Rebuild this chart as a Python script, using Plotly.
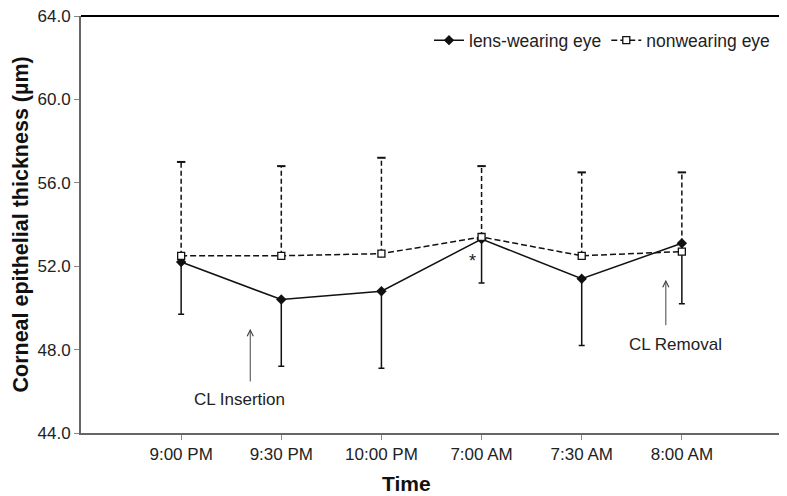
import plotly.graph_objects as go

# data
times = ["9:00 PM", "9:30 PM", "10:00 PM", "7:00 AM", "7:30 AM", "8:00 AM"]
lens_mean = [52.2, 50.4, 50.8, 53.3, 51.4, 53.1]
lens_sd = [2.5, 3.2, 3.7, 2.1, 3.2, 2.9]
non_mean = [52.5, 52.5, 52.6, 53.4, 52.5, 52.7]
non_sd = [4.5, 4.3, 4.6, 3.4, 4.0, 3.8]

x = list(range(len(times)))
font = "Liberation Sans, Arial, sans-serif"

fig = go.Figure()

# dashed upward error bars for the nonwearing eye (plotly error bars cannot be dashed)
bx, by = [], []
for i, m, s in zip(x, non_mean, non_sd):
    bx += [i, i, None]
    by += [m, m + s, None]
fig.add_trace(go.Scatter(x=bx, y=by, mode="lines", showlegend=False, hoverinfo="skip",
                         line=dict(color="#111", width=1.5, dash="5px,3px")))
fig.add_trace(go.Scatter(x=x, y=[m + s for m, s in zip(non_mean, non_sd)], mode="markers",
                         showlegend=False, hoverinfo="skip",
                         marker=dict(symbol="line-ew", size=6, line=dict(color="#111", width=2))))

# lens-wearing eye: solid line, downward error bars
fig.add_trace(go.Scatter(
    x=x, y=lens_mean, name="lens-wearing eye", mode="lines+markers",
    line=dict(color="#111", width=1.5),
    marker=dict(symbol="diamond", size=8, color="#111"),
    error_y=dict(type="data", symmetric=False, array=[0] * len(x), arrayminus=lens_sd,
                 color="#111", thickness=1.5, width=3),
))

# nonwearing eye: dashed line, open squares
fig.add_trace(go.Scatter(
    x=x, y=non_mean, name="nonwearing eye", mode="lines+markers",
    line=dict(color="#111", width=1.5, dash="6px,3px"),
    marker=dict(symbol="square", size=7, color="white", line=dict(color="#111", width=1.3)),
))

# frame: grey left/bottom axis lines, black top/right
fig.add_shape(type="line", xref="paper", yref="paper", x0=0, x1=1, y0=1, y1=1,
              line=dict(color="black", width=2))
fig.add_shape(type="line", xref="paper", yref="paper", x0=1, x1=1, y0=0, y1=1,
              line=dict(color="black", width=2))

# annotations
fig.add_annotation(x=3, y=52.25, text="*", showarrow=False, xshift=-9,
                   font=dict(size=18, color="#222"))
fig.add_annotation(x=0.69, y=49.0, ax=0.69, ay=46.4, axref="x", ayref="y", text="",
                   showarrow=True, arrowhead=5, arrowsize=1.2, arrowwidth=1, arrowcolor="#444")
fig.add_annotation(x=0.58, y=45.6, text="CL Insertion", showarrow=False,
                   font=dict(size=17, color="#222"))
fig.add_annotation(x=4.84, y=51.35, ax=4.84, ay=49.1, axref="x", ayref="y", text="",
                   showarrow=True, arrowhead=5, arrowsize=1.2, arrowwidth=1, arrowcolor="#444")
fig.add_annotation(x=4.94, y=48.25, text="CL Removal", showarrow=False,
                   font=dict(size=17, color="#222"))

# axis titles
fig.add_annotation(xref="paper", yref="paper", x=-0.087, y=0.5, textangle=-90,
                   xanchor="center", yanchor="middle",
                   text="<b>Corneal epithelial thickness (µm)</b>", showarrow=False,
                   font=dict(size=21.5, color="#111"))
fig.add_annotation(xref="paper", yref="paper", x=0.465, y=-0.12, yanchor="middle",
                   xanchor="center",
                   text="<b>Time</b>", showarrow=False, font=dict(size=21, color="#111"))

# page body keeps an 8px margin, so the figure is 8px smaller than the window
fig.update_layout(
    width=779, height=488,
    margin=dict(l=73, r=5, t=8, b=63, autoexpand=False),
    plot_bgcolor="white", paper_bgcolor="white",
    font=dict(family=font, color="#222", size=17),
    legend=dict(orientation="h", x=0.99, y=0.985, xanchor="right", yanchor="top",
                bgcolor="rgba(0,0,0,0)", font=dict(size=17.5), itemwidth=30),
)
fig.update_xaxes(
    range=[-1, 6], tickvals=x + [6], ticktext=times + [""],
    showgrid=False, zeroline=False, automargin=False,
    showline=True, linecolor="#666", linewidth=2,
    ticks="outside", ticklen=5, tickcolor="#888",
    tickfont=dict(size=17, color="#222"),
)
fig.update_yaxes(
    range=[44, 64], tickvals=[44, 48, 52, 56, 60, 64], tickformat=".1f",
    showgrid=False, zeroline=False, automargin=False, ticklabeloverflow="allow",
    showline=True, linecolor="#666", linewidth=2,
    ticks="outside", ticklen=5, tickcolor="#888",
    tickfont=dict(size=17, color="#222"),
)

fig.write_html("out.html")
